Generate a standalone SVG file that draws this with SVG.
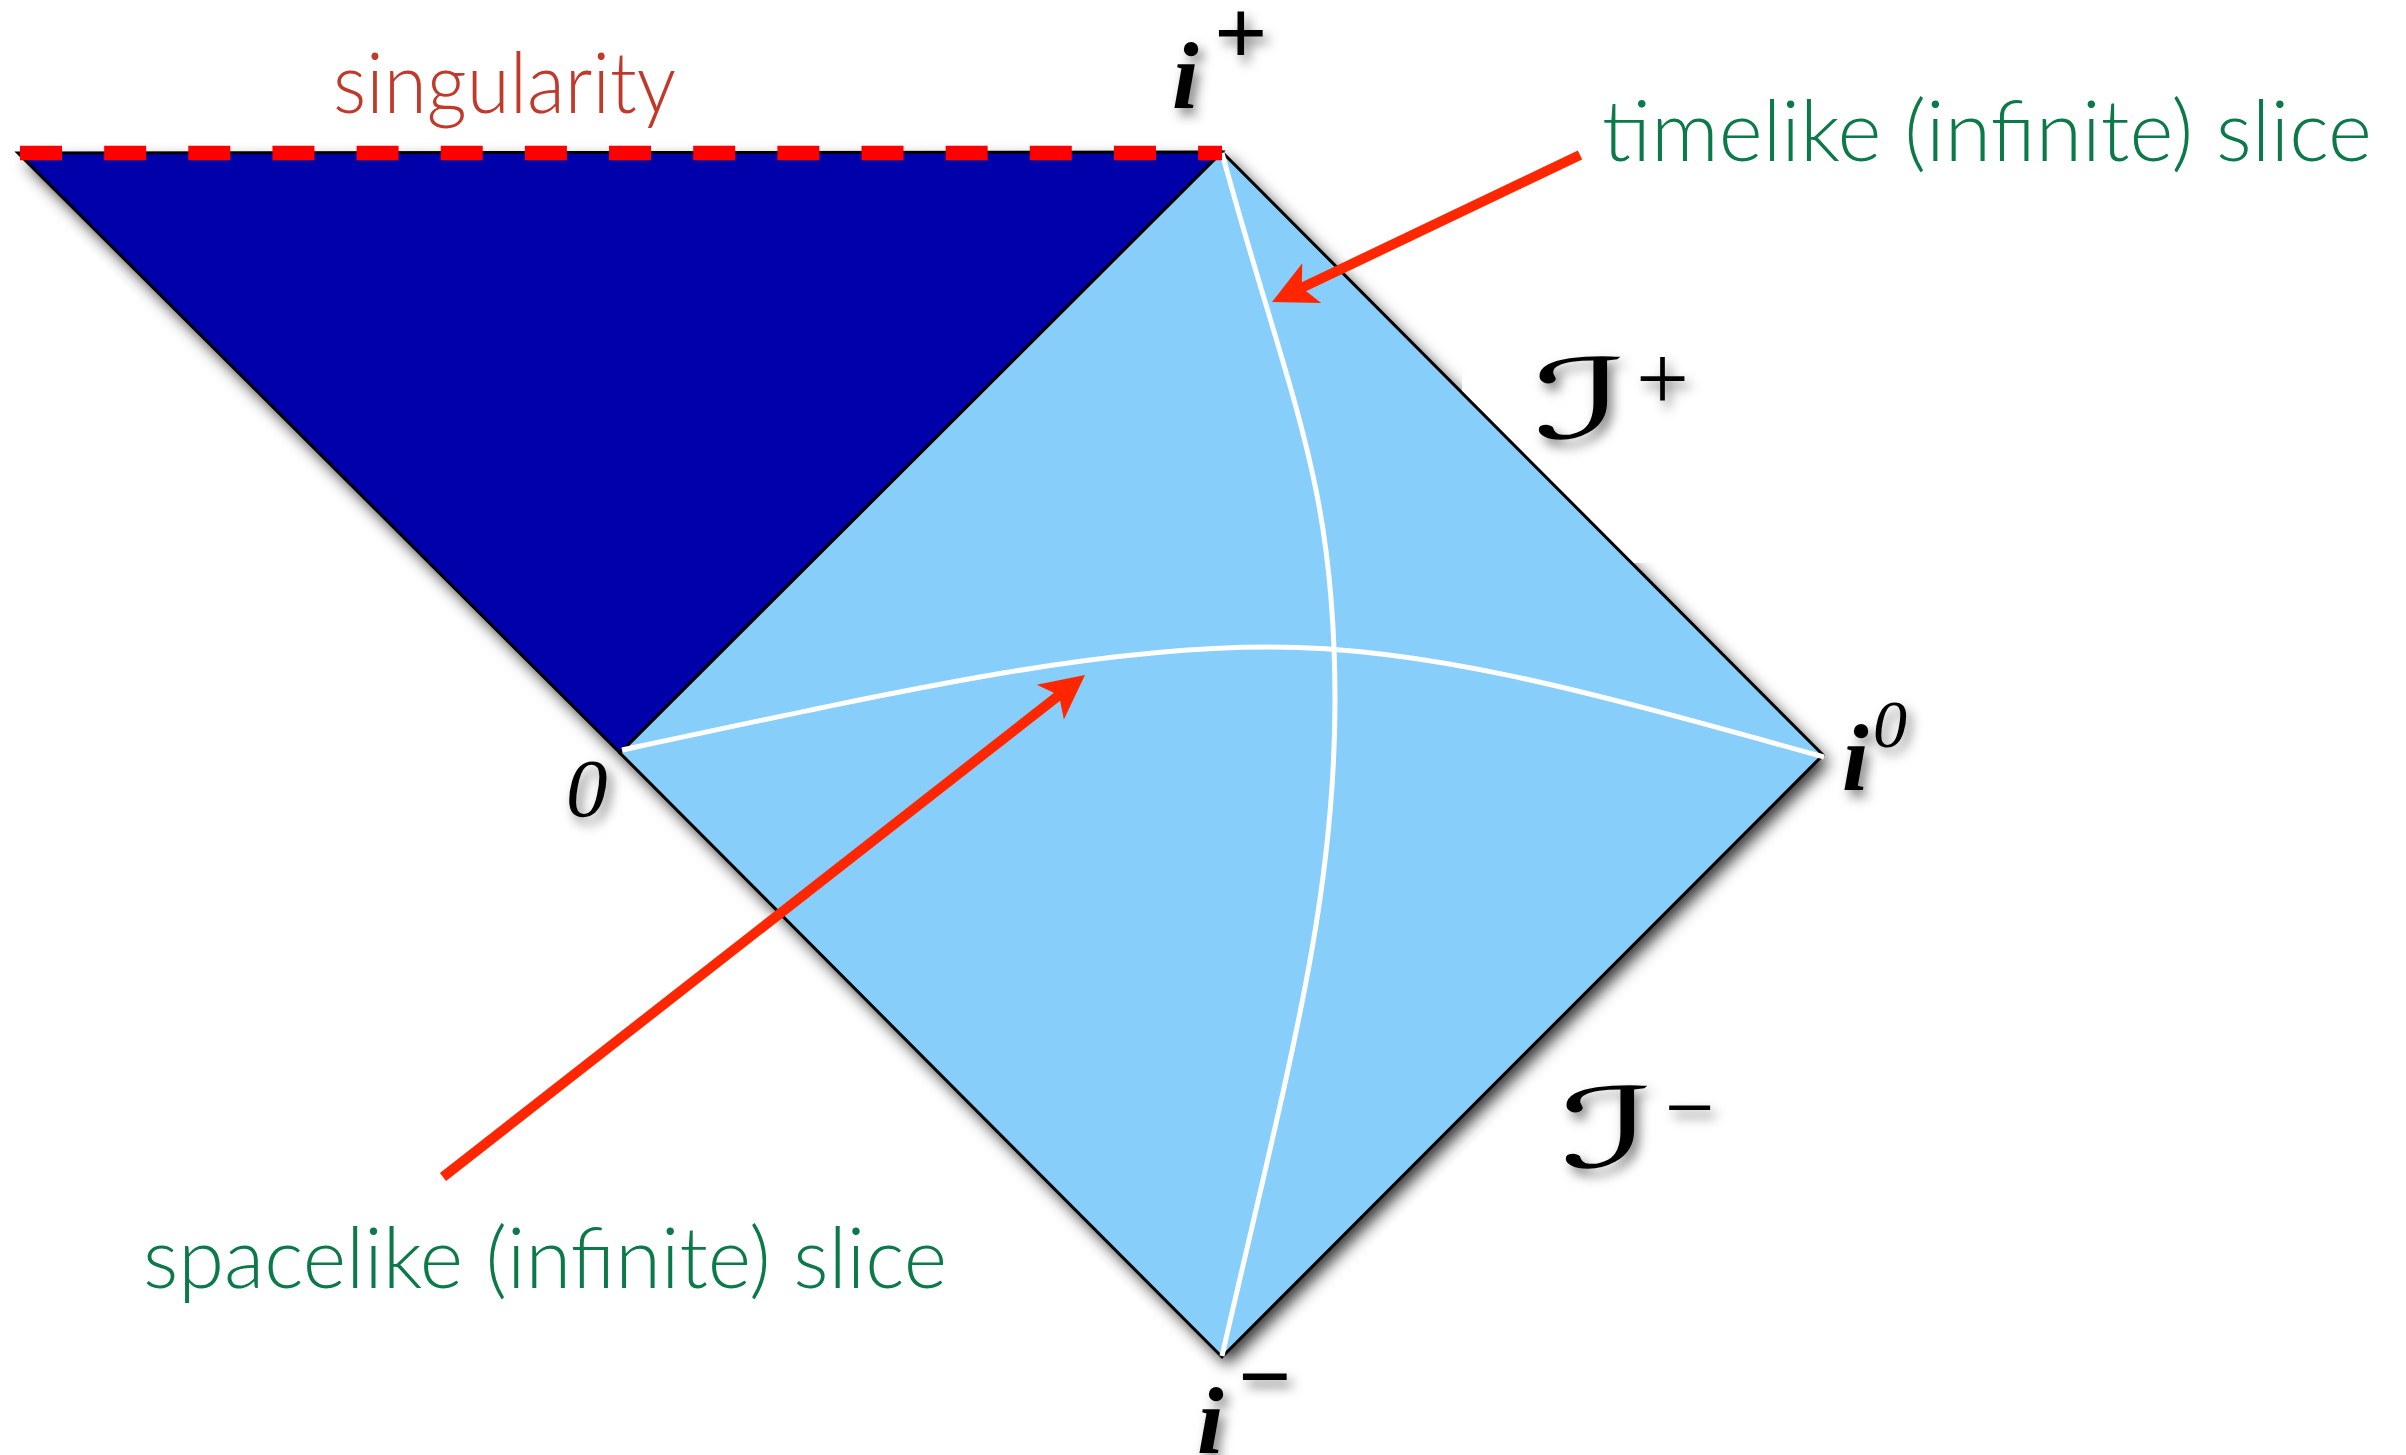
<svg xmlns="http://www.w3.org/2000/svg" width="2406" height="1455" viewBox="0 0 2406 1455">
  <defs>
    <filter id="shonly" x="-10%" y="-10%" width="130%" height="130%">
      <feGaussianBlur in="SourceAlpha" stdDeviation="8"/>
      <feOffset dx="6" dy="8" result="o"/>
      <feFlood flood-color="#000" flood-opacity="0.8"/>
      <feComposite in2="o" operator="in"/>
    </filter>
    <filter id="tsh" x="-50%" y="-50%" width="200%" height="200%">
      <feDropShadow dx="5" dy="7" stdDeviation="6" flood-color="#000" flood-opacity="0.5"/>
    </filter>
    <marker id="ah" markerUnits="userSpaceOnUse" orient="auto" refX="0" refY="0" markerWidth="100" markerHeight="100" style="overflow:visible">
      <path d="M33,0 L-11,-22 L0,0 L-11,22 Z" fill="#FF2600"/>
    </marker>
    <style>
      .edge{stroke:#000;stroke-width:3;stroke-linejoin:miter}
      .slice{fill:none;stroke:#fff;stroke-width:5}
      .arrow{fill:none;stroke:#FF2600;stroke-width:10;marker-end:url(#ah)}
      .lbl{font-family:"Lato","Open Sans","Liberation Sans",sans-serif;font-weight:300;font-size:84px;fill:#0B7A48}
      .math{font-family:"Liberation Serif","Times New Roman",serif;fill:#000}
      .scr{font-family:"DejaVu Serif","DejaVu Sans",serif;fill:#000}
    </style>
  </defs>

  <!-- shadows of regions -->
  <g id="shadows" filter="url(#shonly)">
    <path d="M18,153 L1222,152 L620,753 Z"/>
    <path d="M1222,152 L1823,755 L1222,1357 L620,753 Z"/>
  </g>
  <!-- label backgrounds -->
  <rect x="1462" y="373" width="240" height="190" fill="#fff"/>
  <rect x="1553" y="1065" width="190" height="130" fill="#fff"/>

  <g id="black-hole-region">
    <path class="edge" d="M18,153 L1222,152 L620,753 Z" fill="#0000AA"/>
  </g>
  <g id="exterior-region">
    <path class="edge" d="M1222,152 L1823,755 L1222,1357 L620,753 Z" fill="#87CEFA"/>
  </g>

  <g id="slices">
    <path class="slice" d="M1222,153 C1290,402 1335,480 1335,700 C1335,900 1291,1056 1222,1356"/>
    <path class="slice" d="M622,750 C921,686 1100,647 1270,647 C1430,647 1590,692 1824,757"/>
  </g>

  <g id="singularity-line">
    <line x1="20" y1="153" x2="1222" y2="153" stroke="#FF0000" stroke-width="14.7" stroke-dasharray="42 42.15"/>
  </g>

  <g id="connectors">
    <path class="arrow" d="M1580,155 L1301.8,287.8"/>
    <path class="arrow" d="M443,1177 L1059,695.3"/>
  </g>

  <g id="labels">
    <text x="333" y="113" class="lbl" style="fill:#C0392B" textLength="343" lengthAdjust="spacingAndGlyphs">singularity</text>
    <text x="1602" y="161" class="lbl" textLength="770" lengthAdjust="spacingAndGlyphs">timelike (infinite) slice</text>
    <text x="143" y="1288" class="lbl" textLength="804" lengthAdjust="spacingAndGlyphs">spacelike (infinite) slice</text>
  </g>

  <g id="math-labels" filter="url(#tsh)">
    <g id="i-plus">
      <text class="math" x="1172" y="108" font-size="96" font-style="italic" font-weight="bold">i</text>
      <text class="math" x="1214" y="64" font-size="94" font-weight="bold">+</text>
    </g>
    <g id="i-zero">
      <text class="math" x="1842" y="790" font-size="96" font-style="italic" font-weight="bold">i</text>
      <text class="math" x="1873" y="747" font-size="68" font-style="italic">0</text>
    </g>
    <g id="origin">
      <text class="math" x="566" y="816" font-size="83" font-style="italic">0</text>
    </g>
    <g id="i-minus">
      <text class="math" x="1197" y="1453" font-size="96" font-style="italic" font-weight="bold">i</text>
      <text class="math" x="1238" y="1408" font-size="94" font-weight="bold">−</text>
    </g>
    <g id="scri-plus">
      <text class="scr" x="1533" y="438" font-size="110" textLength="95" lengthAdjust="spacingAndGlyphs">ℐ</text>
      <text class="math" x="1636" y="410" font-size="94">+</text>
    </g>
    <g id="scri-minus">
      <text class="scr" x="1560" y="1167" font-size="110" textLength="95" lengthAdjust="spacingAndGlyphs">ℐ</text>
      <text class="math" x="1665" y="1137" font-size="88">−</text>
    </g>
  </g>
</svg>
